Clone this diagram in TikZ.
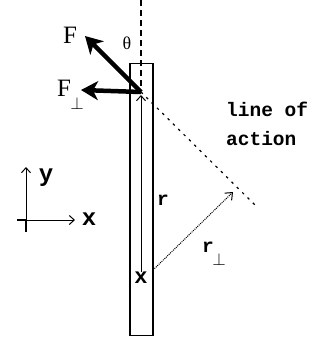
\documentclass[tikz,border=0pt]{standalone}
\usepackage{fontspec}
\setmainfont{Liberation Serif}
\newfontfamily\blk{Liberation Mono}
\usetikzlibrary{arrows.meta}
\begin{document}
\begin{tikzpicture}[x=1pt,y=-1pt,
  thinline/.style={line width=1.1pt},
  bigarrow/.style={line width=4.5pt,-{Stealth[length=17pt,width=19pt,inset=5pt]}},
  openarrow/.style={line width=1pt,-{Straight Barb[length=5pt,width=9pt]}},
  lbl/.style={inner sep=0pt,font=\blk\bfseries\fontsize{19.5}{22}\selectfont},
  serif/.style={inner sep=0pt}]
\useasboundingbox (0,0) rectangle (320,341);
% rod
\node[draw,thinline,minimum width=23pt,minimum height=272pt,inner sep=0pt,anchor=north] (rod) at (141.5,63) {};
% coordinates
\coordinate (top) at (141,92);
\coordinate (rtip) at (141,95);
\coordinate (vtop) at (141,0);
\coordinate (vbot) at (141,86);
\coordinate (loa) at (256,206);
\coordinate (rpstart) at (153,270);
\coordinate (rpend) at (233,192);
\coordinate (ftip) at (85,36);
\coordinate (fptip) at (81,90);
% pivot
\node[inner sep=0pt,font=\blk\bfseries\fontsize{22}{22}\selectfont] (pivot) at (141,278) {x};
% vertical dashed line
\draw[line width=1.4pt,dash pattern=on 6pt off 4pt] (vtop) -- (vbot);
% r vector
\draw[openarrow] (pivot.north) -- (rtip);
% line of action
\draw[line width=1.2pt,dash pattern=on 2.5pt off 5pt] (top) -- (loa);
% r perp
\draw[line width=1pt,densely dotted,-{Straight Barb[length=6pt,width=10pt]}] (rpstart) -- (rpend);
% forces
\draw[bigarrow] (top) -- (ftip);
\draw[bigarrow] (top) -- (fptip);
% labels
\node[serif,font=\fontsize{25}{25}\selectfont] (F) at (70,35) {F};
\node[serif,font=\fontsize{18}{18}\selectfont] (theta) at (127,43) {θ};
\node[serif,font=\fontsize{25}{25}\selectfont] (Fp) at (64,88) {F};
\node[serif,font=\fontsize{16}{16}\selectfont] (Fpsub) at (77,103) {$\perp$};
\node[lbl,anchor=west] (loa1) at (226,109) {line of};
\node[lbl,anchor=west] (loa2) at (226,139) {action};
\node[lbl] (r) at (163,200) {r};
\node[lbl] (rp) at (208,247) {r};
\node[serif,font=\fontsize{16}{16}\selectfont] (rpsub) at (219,259) {$\perp$};
% axes
\coordinate (o) at (26,220);
\coordinate (ytip) at (26,167);
\coordinate (xtip) at (75,220);
\draw[thinline] (26,232) -- (o);
\draw[thinline] (17,220) -- (o);
\draw[openarrow] (o) -- (ytip);
\draw[openarrow] (o) -- (xtip);
\node[lbl,font=\blk\bfseries\fontsize{24}{24}\selectfont] (ylab) at (46,178) {y};
\node[lbl,font=\blk\bfseries\fontsize{24}{24}\selectfont] (xlab) at (89,219) {x};
\end{tikzpicture}
\end{document}
